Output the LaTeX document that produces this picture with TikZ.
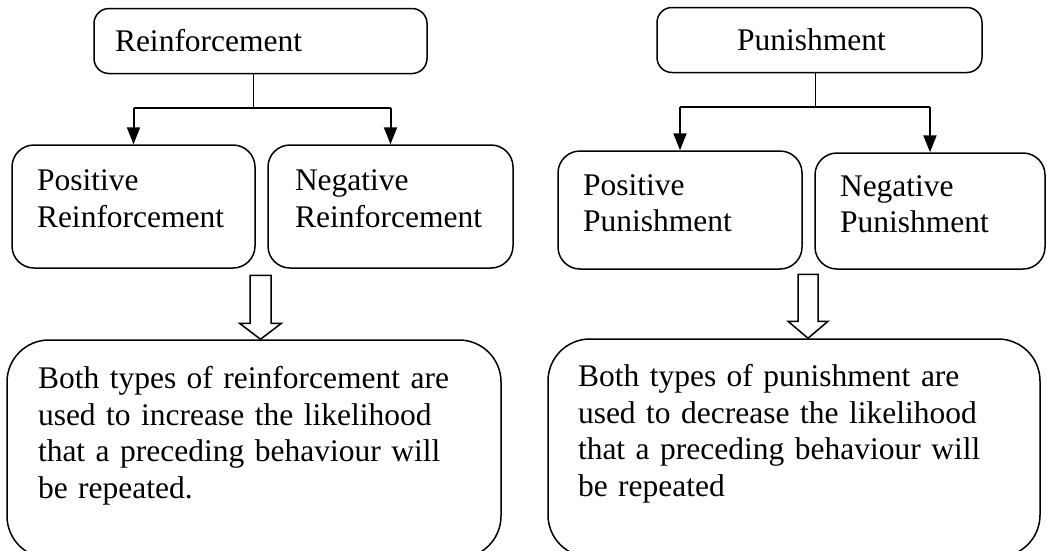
\documentclass[tikz,border=0pt]{standalone}
\usepackage{fontspec}
\setmainfont{Liberation Serif}
\usetikzlibrary{arrows.meta}

\tikzset{
  box/.style={draw, line width=1.5pt, rounded corners=22pt, inner xsep=25pt,
    align=left, font=\fontsize{31.5}{36.5}\selectfont},
  topbox/.style={box, rounded corners=15pt, minimum height=65pt},
  midbox/.style={box, minimum height=123pt},
  bigbox/.style={box, rounded corners=42pt, inner xsep=31pt, minimum height=218pt},
  tree/.style={line width=1pt},
  bar/.style={line width=2.2pt},
  drop/.style={line width=2pt, -{Triangle[length=17pt,width=13pt]}},
  hollow/.style={line width=1.5pt, fill=white},
}
% extra depth under the last line, so the text sits high in its box
\newcommand{\padbelow}[1]{\rule[-#1pt]{0pt}{0pt}}

\begin{document}
\begin{tikzpicture}[x=1pt, y=-1pt]  % pixel-like units, y runs down
    \useasboundingbox (0,0) rectangle (1047,550);
    \clip (0,0) rectangle (1047,550);

    % Top boxes
    \node[topbox, text width=291pt, inner xsep=21pt] (reinf) at (260.5,41) {Reinforcement};
    \node[topbox, text width=165pt, inner xsep=80pt] (pun) at (819.5,40) {Punishment};

    % Middle boxes
    \node[midbox, text width=193pt] (posr) at (133.5,206.5) {Positive\\Reinforcement\padbelow{16}};
    \node[midbox, text width=191pt, inner xsep=27pt] (negr) at (390.5,206.5) {Negative\\Reinforcement\padbelow{16}};
    \node[midbox, text width=194pt, minimum height=118pt] (posp) at (680,210) {Positive\\Punishment\padbelow{14}};
    \node[midbox, text width=180pt, minimum height=116pt] (negp) at (930,211) {Negative\\Punishment\padbelow{14}};

    % Bottom boxes
    \node[bigbox, text width=432pt] (botl) at (254,449)
        {Both types of reinforcement are\\used to increase the likelihood\\that a preceding behaviour will\\be repeated.\padbelow{33}};
    \node[bigbox, text width=432pt, inner xsep=30pt] (botr) at (794,448)
        {Both types of punishment are\\used to decrease the likelihood\\that a preceding behaviour will\\be repeated\padbelow{35}};

    % Branches under Reinforcement
    \draw[tree] ([xshift=-7pt]reinf.south) -- ++(0,34) coordinate (rjoin);
    \draw[bar] (posr.north |- rjoin) -- (negr.north |- rjoin);
    \foreach \n in {posr,negr}
        \draw[drop] (\n.north |- rjoin) -- (\n.north);

    % Branches under Punishment
    \draw[tree] ([xshift=-4pt]pun.south) -- ++(0,34) coordinate (pjoin);
    \draw[bar] (posp.north |- pjoin) -- (negp.north |- pjoin);
    \foreach \n in {posp,negp}
        \draw[drop] (\n.north |- pjoin) -- (\n.north);

    % Hollow arrows down to the summaries
    \draw[hollow] ([xshift=6.5pt]botl.north) -- ++(21,-16) -- ++(-10.5,0) -- ++(0,-48)
        -- ++(-21,0) -- ++(0,48) -- ++(-10.5,0) -- cycle;
    \draw[hollow] ([xshift=14pt]botr.north) -- ++(20,-17) -- ++(-10,0) -- ++(0,-47)
        -- ++(-20,0) -- ++(0,47) -- ++(-10,0) -- cycle;

\end{tikzpicture}
\end{document}
